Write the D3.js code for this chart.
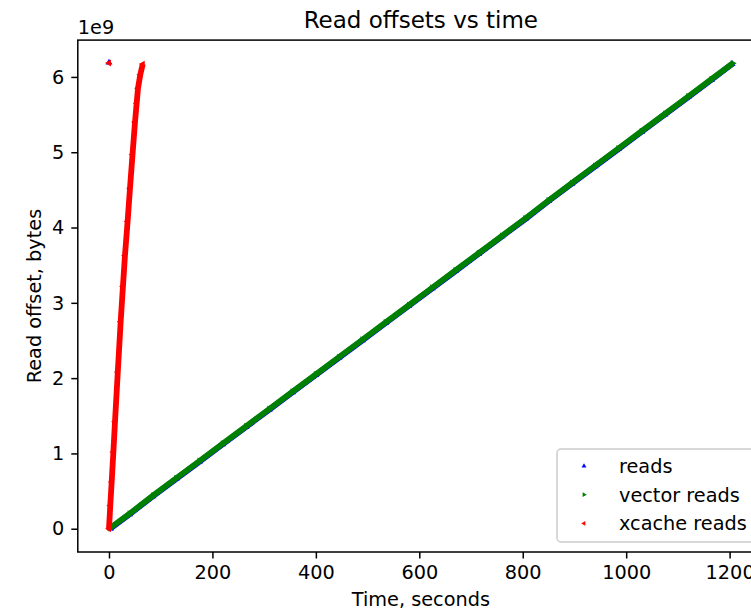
<!DOCTYPE html>
<html>
<head>
<meta charset="utf-8">
<script src="https://cdn.jsdelivr.net/npm/d3@7"></script>
<style>
  html, body { margin: 0; padding: 0; background: #fff; overflow: hidden; }
  svg { display: block; font-family: "DejaVu Sans", sans-serif; }
</style>
</head>
<body>
<svg id="chart" width="751" height="609"></svg>
<script>
// Read offsets (in units of 1e9 bytes) against elapsed time (seconds)

// plain reads
const readsTime   = [3, 40, 85, 130, 175, 220, 265, 310, 355, 400, 445, 490, 535, 580, 625, 670, 715, 760, 805, 850, 895, 940, 985, 1030, 1075, 1120, 1165, 1205];
const readsOffset = [0.003, 0.193, 0.432, 0.662, 0.892, 1.122, 1.352, 1.582, 1.812, 2.042, 2.272, 2.502, 2.732, 2.962, 3.192, 3.422, 3.652, 3.882, 4.112, 4.352, 4.582, 4.812, 5.042, 5.272, 5.502, 5.732, 5.962, 6.172];

// vector reads
const vectorTime   = [2, 40, 85, 130, 175, 220, 265, 310, 355, 400, 445, 490, 535, 580, 625, 670, 715, 760, 805, 850, 895, 940, 985, 1030, 1075, 1120, 1165, 1206];
const vectorOffset = [0.01, 0.20, 0.44, 0.67, 0.90, 1.13, 1.36, 1.59, 1.82, 2.05, 2.28, 2.51, 2.74, 2.97, 3.20, 3.43, 3.66, 3.89, 4.12, 4.36, 4.59, 4.82, 5.05, 5.28, 5.51, 5.74, 5.97, 6.18];

// xcache reads
const xcacheTime   = [0, 2.5, 5.2, 8.5, 11.6, 17, 22.6, 27, 30.9, 36, 40.6, 45.5, 50.3, 53.5, 56.1, 60.5, 65.3];
const xcacheOffset = [0, 0.31, 0.62, 1.02, 1.42, 2.08, 2.75, 3.22, 3.63, 4.08, 4.52, 4.97, 5.40, 5.65, 5.85, 6.03, 6.17];

// first read of each kind that jumps to the end of the file
const probeTime         = [0];
const readsProbeOffset  = [6.19];
const xcacheProbeOffset = [6.185];

const xTicks = [0, 200, 400, 600, 800, 1000, 1200];
const yTicks = [0, 1, 2, 3, 4, 5, 6];

const seriesNames = ["reads", "vector reads", "xcache reads"];
const seriesColors = ["#0000ff", "#008000", "#ff0000"];
const seriesRotation = [0, 90, -90]; // ^, >, <

const svg = d3.select("#chart");
const fs = 19.3;

const frame = { left: 77.8, right: 763.9, top: 40.1, bottom: 552.0 };
const x = d3.scaleLinear().domain([-60.3, 1266.3]).range([frame.left, frame.right]);
const y = d3.scaleLinear().domain([-0.309, 6.489]).range([frame.bottom, frame.top]);

const zip = (t, v) => t.map((d, i) => [d, v[i]]);
const series = [
  { pts: zip(readsTime, readsOffset), probe: zip(probeTime, readsProbeOffset) },
  { pts: zip(vectorTime, vectorOffset), probe: [] },
  { pts: zip(xcacheTime, xcacheOffset), probe: zip(probeTime, xcacheProbeOffset) }
];

const tri = d3.symbol().type(d3.symbolTriangle);

const plot = svg.append("g");
const line = d3.line().x(d => x(d[0])).y(d => y(d[1]));

series.forEach((s, i) => {
  const g = plot.append("g");
  // dense run of markers, drawn as a thick track
  g.append("path")
    .attr("d", line(s.pts))
    .attr("fill", "none")
    .attr("stroke", seriesColors[i])
    .attr("stroke-width", 5.8)
    .attr("stroke-linejoin", "round")
    .attr("stroke-linecap", "butt");
  g.selectAll("path.m")
    .data(s.pts.concat(s.probe))
    .join("path")
    .attr("class", "m")
    .attr("d", tri.size(20)())
    .attr("transform", d => `translate(${x(d[0])},${y(d[1])}) rotate(${seriesRotation[i]})`)
    .attr("fill", seriesColors[i]);
});

// frame
svg.append("rect")
  .attr("x", frame.left).attr("y", frame.top)
  .attr("width", frame.right - frame.left).attr("height", frame.bottom - frame.top)
  .attr("fill", "none").attr("stroke", "#000").attr("stroke-width", 1.5);

// x axis
const xAxis = svg.append("g").attr("transform", `translate(0,${frame.bottom})`)
  .call(d3.axisBottom(x).tickValues(xTicks).tickSize(6.5).tickPadding(7).tickFormat(d3.format("d")));
xAxis.select(".domain").remove();
xAxis.selectAll("line").attr("stroke", "#000").attr("stroke-width", 1.5);
xAxis.selectAll("text").attr("font-size", fs).attr("font-family", "DejaVu Sans").attr("fill", "#000");

// y axis
const yAxis = svg.append("g").attr("transform", `translate(${frame.left},0)`)
  .call(d3.axisLeft(y).tickValues(yTicks).tickSize(6.5).tickPadding(7).tickFormat(d3.format("d")));
yAxis.select(".domain").remove();
yAxis.selectAll("line").attr("stroke", "#000").attr("stroke-width", 1.5);
yAxis.selectAll("text").attr("font-size", fs).attr("font-family", "DejaVu Sans").attr("fill", "#000");

// offset multiplier
svg.append("text").attr("x", frame.left).attr("y", 34)
  .attr("font-size", fs).text("1e9");

// title and axis labels
const midX = (frame.left + frame.right) / 2;
svg.append("text").attr("x", midX).attr("y", 28)
  .attr("text-anchor", "middle").attr("font-size", 23).text("Read offsets vs time");
svg.append("text").attr("x", midX).attr("y", 605.5)
  .attr("text-anchor", "middle").attr("font-size", fs).text("Time, seconds");
svg.append("text")
  .attr("transform", `translate(41,${(frame.top + frame.bottom) / 2}) rotate(-90)`)
  .attr("text-anchor", "middle").attr("font-size", fs).text("Read offset, bytes");

// legend
const legend = svg.append("g");
legend.append("rect")
  .attr("x", 557).attr("y", 449).attr("width", 197).attr("height", 93)
  .attr("rx", 4).attr("fill", "#fff").attr("fill-opacity", 0.8)
  .attr("stroke", "#cccccc").attr("stroke-width", 1.5);
seriesNames.forEach((name, i) => {
  const by = 473 + i * 28.7;
  legend.append("path")
    .attr("d", tri.size(10)())
    .attr("transform", `translate(584,${by - 7}) rotate(${seriesRotation[i]})`)
    .attr("fill", seriesColors[i]);
  legend.append("text").attr("x", 619).attr("y", by)
    .attr("font-size", fs).text(name);
});
</script>
</body>
</html>
